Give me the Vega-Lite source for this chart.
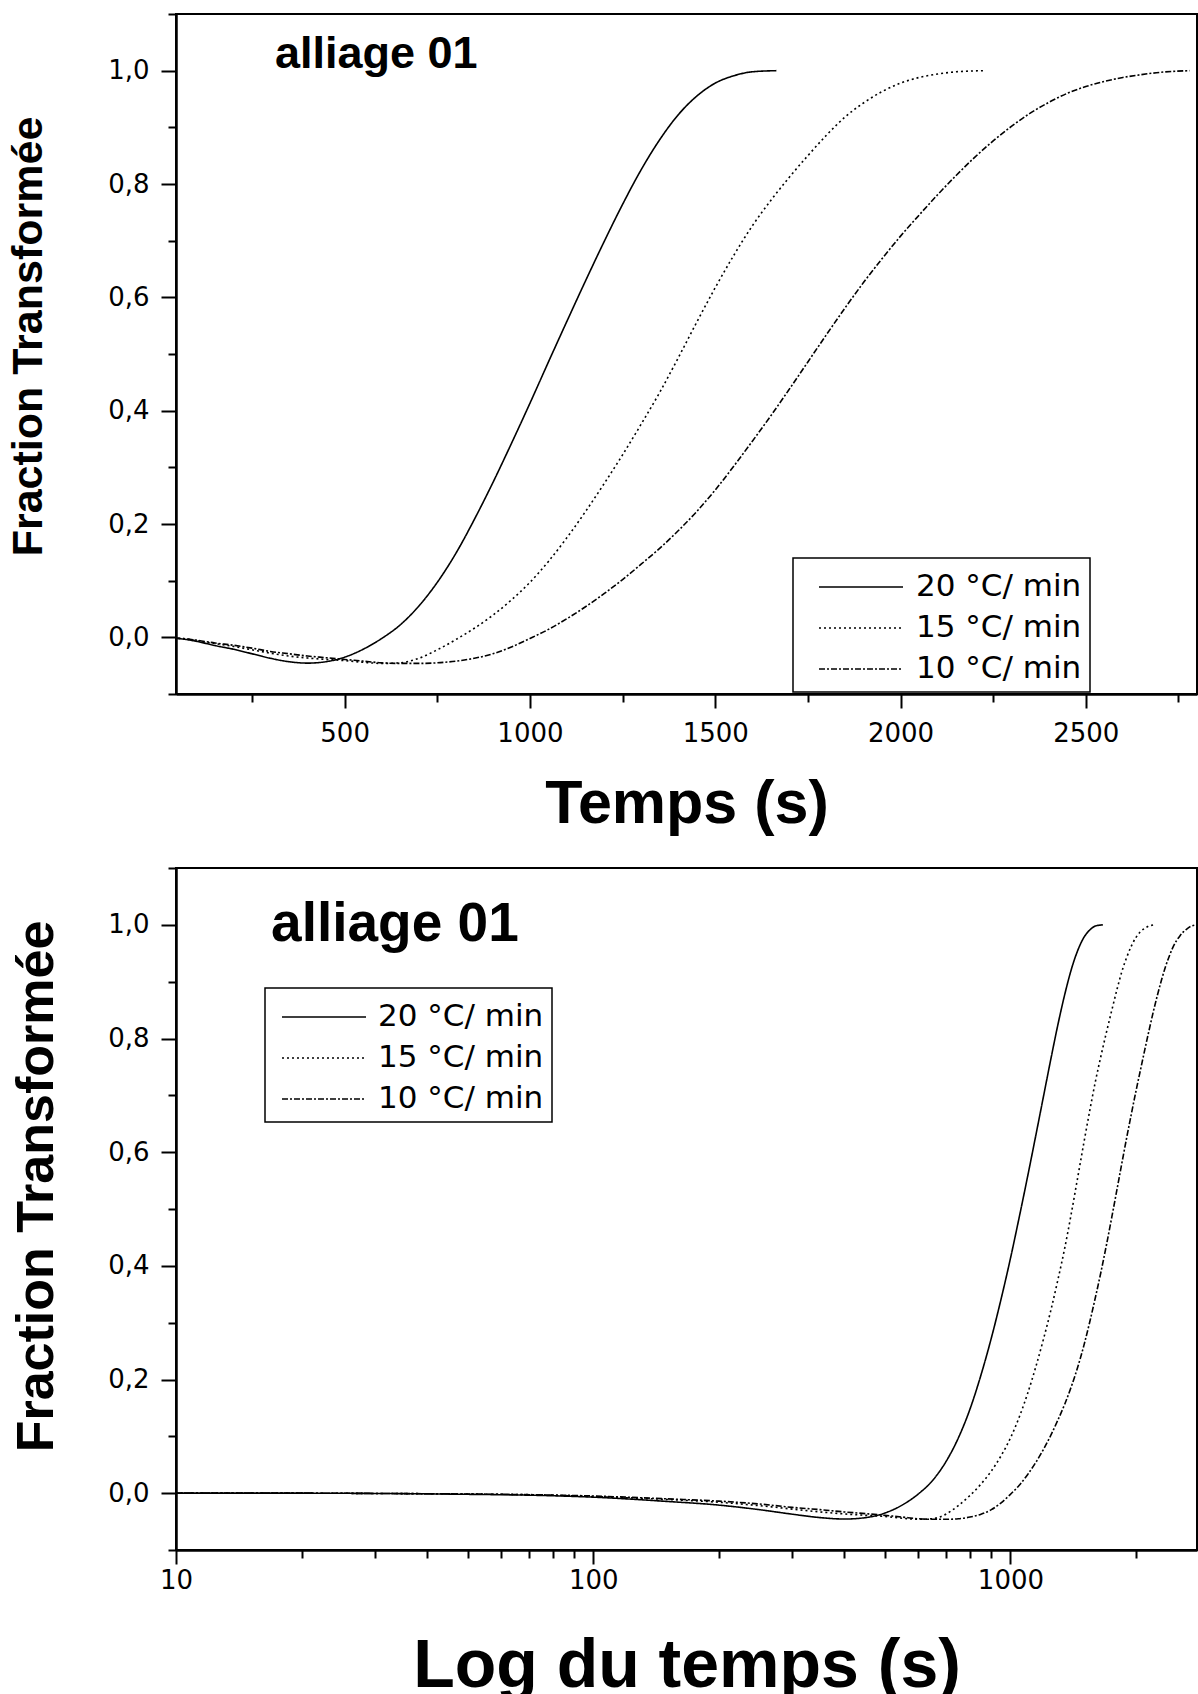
{
  "$schema": "https://vega.github.io/schema/vega-lite/v6.json",
  "background": "white",
  "padding": {"left": 6, "top": 0, "right": 0, "bottom": 0},
  "config": {
    "view": {"stroke": "black", "strokeWidth": 2},
    "legend": {"strokeWidth": 1.5},
    "axis": {
      "grid": false,
      "domainColor": "black",
      "domainWidth": 2.5,
      "tickColor": "black",
      "tickWidth": 2,
      "labelFont": "DejaVu Sans",
      "labelFontSize": 26,
      "labelColor": "black",
      "labelOverlap": false,
      "labelFlush": false,
      "titleFont": "Liberation Sans",
      "titleFontWeight": "bold",
      "titleColor": "black"
    }
  },
  "datasets": {
    "labels": [{"label": "alliage 01"}],
    "curves": [
      {"rate": "20 °C/ min", "t": 10, "f": 0},
      {"rate": "20 °C/ min", "t": 20, "f": 0},
      {"rate": "20 °C/ min", "t": 30, "f": -0.0005},
      {"rate": "20 °C/ min", "t": 50, "f": -0.002},
      {"rate": "20 °C/ min", "t": 75, "f": -0.004},
      {"rate": "20 °C/ min", "t": 100, "f": -0.007},
      {"rate": "20 °C/ min", "t": 150, "f": -0.0145},
      {"rate": "20 °C/ min", "t": 200, "f": -0.021},
      {"rate": "20 °C/ min", "t": 250, "f": -0.029},
      {"rate": "20 °C/ min", "t": 300, "f": -0.037},
      {"rate": "20 °C/ min", "t": 350, "f": -0.043},
      {"rate": "20 °C/ min", "t": 400, "f": -0.0455},
      {"rate": "20 °C/ min", "t": 450, "f": -0.043},
      {"rate": "20 °C/ min", "t": 500, "f": -0.035},
      {"rate": "20 °C/ min", "t": 550, "f": -0.021},
      {"rate": "20 °C/ min", "t": 600, "f": -0.002},
      {"rate": "20 °C/ min", "t": 650, "f": 0.022},
      {"rate": "20 °C/ min", "t": 700, "f": 0.055},
      {"rate": "20 °C/ min", "t": 750, "f": 0.097},
      {"rate": "20 °C/ min", "t": 800, "f": 0.148},
      {"rate": "20 °C/ min", "t": 850, "f": 0.208},
      {"rate": "20 °C/ min", "t": 900, "f": 0.273},
      {"rate": "20 °C/ min", "t": 950, "f": 0.342},
      {"rate": "20 °C/ min", "t": 1000, "f": 0.413},
      {"rate": "20 °C/ min", "t": 1050, "f": 0.486},
      {"rate": "20 °C/ min", "t": 1100, "f": 0.558},
      {"rate": "20 °C/ min", "t": 1150, "f": 0.629},
      {"rate": "20 °C/ min", "t": 1200, "f": 0.698},
      {"rate": "20 °C/ min", "t": 1250, "f": 0.764},
      {"rate": "20 °C/ min", "t": 1300, "f": 0.825},
      {"rate": "20 °C/ min", "t": 1350, "f": 0.878},
      {"rate": "20 °C/ min", "t": 1400, "f": 0.922},
      {"rate": "20 °C/ min", "t": 1450, "f": 0.955},
      {"rate": "20 °C/ min", "t": 1500, "f": 0.978},
      {"rate": "20 °C/ min", "t": 1550, "f": 0.991},
      {"rate": "20 °C/ min", "t": 1600, "f": 0.998},
      {"rate": "20 °C/ min", "t": 1665, "f": 1.0},

      {"rate": "15 °C/ min", "t": 10, "f": 0},
      {"rate": "15 °C/ min", "t": 20, "f": 0},
      {"rate": "15 °C/ min", "t": 30, "f": -0.0005},
      {"rate": "15 °C/ min", "t": 50, "f": -0.0015},
      {"rate": "15 °C/ min", "t": 75, "f": -0.003},
      {"rate": "15 °C/ min", "t": 100, "f": -0.006},
      {"rate": "15 °C/ min", "t": 150, "f": -0.011},
      {"rate": "15 °C/ min", "t": 200, "f": -0.016},
      {"rate": "15 °C/ min", "t": 250, "f": -0.022},
      {"rate": "15 °C/ min", "t": 300, "f": -0.028},
      {"rate": "15 °C/ min", "t": 350, "f": -0.033},
      {"rate": "15 °C/ min", "t": 400, "f": -0.0365},
      {"rate": "15 °C/ min", "t": 450, "f": -0.039},
      {"rate": "15 °C/ min", "t": 500, "f": -0.041},
      {"rate": "15 °C/ min", "t": 550, "f": -0.044},
      {"rate": "15 °C/ min", "t": 600, "f": -0.046},
      {"rate": "15 °C/ min", "t": 650, "f": -0.045},
      {"rate": "15 °C/ min", "t": 700, "f": -0.037},
      {"rate": "15 °C/ min", "t": 750, "f": -0.022},
      {"rate": "15 °C/ min", "t": 800, "f": -0.004},
      {"rate": "15 °C/ min", "t": 850, "f": 0.016},
      {"rate": "15 °C/ min", "t": 900, "f": 0.039},
      {"rate": "15 °C/ min", "t": 950, "f": 0.066},
      {"rate": "15 °C/ min", "t": 1000, "f": 0.097},
      {"rate": "15 °C/ min", "t": 1050, "f": 0.134},
      {"rate": "15 °C/ min", "t": 1100, "f": 0.176},
      {"rate": "15 °C/ min", "t": 1150, "f": 0.222},
      {"rate": "15 °C/ min", "t": 1200, "f": 0.271},
      {"rate": "15 °C/ min", "t": 1250, "f": 0.322},
      {"rate": "15 °C/ min", "t": 1300, "f": 0.376},
      {"rate": "15 °C/ min", "t": 1350, "f": 0.432},
      {"rate": "15 °C/ min", "t": 1400, "f": 0.493},
      {"rate": "15 °C/ min", "t": 1450, "f": 0.556},
      {"rate": "15 °C/ min", "t": 1500, "f": 0.617},
      {"rate": "15 °C/ min", "t": 1550, "f": 0.674},
      {"rate": "15 °C/ min", "t": 1600, "f": 0.726},
      {"rate": "15 °C/ min", "t": 1650, "f": 0.771},
      {"rate": "15 °C/ min", "t": 1700, "f": 0.812},
      {"rate": "15 °C/ min", "t": 1750, "f": 0.85},
      {"rate": "15 °C/ min", "t": 1800, "f": 0.886},
      {"rate": "15 °C/ min", "t": 1850, "f": 0.918},
      {"rate": "15 °C/ min", "t": 1900, "f": 0.943},
      {"rate": "15 °C/ min", "t": 1950, "f": 0.963},
      {"rate": "15 °C/ min", "t": 2000, "f": 0.978},
      {"rate": "15 °C/ min", "t": 2050, "f": 0.988},
      {"rate": "15 °C/ min", "t": 2100, "f": 0.994},
      {"rate": "15 °C/ min", "t": 2150, "f": 0.998},
      {"rate": "15 °C/ min", "t": 2225, "f": 1.0},

      {"rate": "10 °C/ min", "t": 10, "f": 0},
      {"rate": "10 °C/ min", "t": 20, "f": 0},
      {"rate": "10 °C/ min", "t": 30, "f": -0.0005},
      {"rate": "10 °C/ min", "t": 50, "f": -0.0015},
      {"rate": "10 °C/ min", "t": 75, "f": -0.003},
      {"rate": "10 °C/ min", "t": 100, "f": -0.005},
      {"rate": "10 °C/ min", "t": 150, "f": -0.01},
      {"rate": "10 °C/ min", "t": 200, "f": -0.014},
      {"rate": "10 °C/ min", "t": 250, "f": -0.019},
      {"rate": "10 °C/ min", "t": 300, "f": -0.025},
      {"rate": "10 °C/ min", "t": 350, "f": -0.029},
      {"rate": "10 °C/ min", "t": 400, "f": -0.033},
      {"rate": "10 °C/ min", "t": 450, "f": -0.036},
      {"rate": "10 °C/ min", "t": 500, "f": -0.039},
      {"rate": "10 °C/ min", "t": 550, "f": -0.042},
      {"rate": "10 °C/ min", "t": 600, "f": -0.045},
      {"rate": "10 °C/ min", "t": 650, "f": -0.046},
      {"rate": "10 °C/ min", "t": 700, "f": -0.046},
      {"rate": "10 °C/ min", "t": 750, "f": -0.045},
      {"rate": "10 °C/ min", "t": 800, "f": -0.042},
      {"rate": "10 °C/ min", "t": 850, "f": -0.037},
      {"rate": "10 °C/ min", "t": 900, "f": -0.029},
      {"rate": "10 °C/ min", "t": 950, "f": -0.017},
      {"rate": "10 °C/ min", "t": 1000, "f": -0.002},
      {"rate": "10 °C/ min", "t": 1050, "f": 0.014},
      {"rate": "10 °C/ min", "t": 1100, "f": 0.033},
      {"rate": "10 °C/ min", "t": 1150, "f": 0.054},
      {"rate": "10 °C/ min", "t": 1200, "f": 0.077},
      {"rate": "10 °C/ min", "t": 1250, "f": 0.102},
      {"rate": "10 °C/ min", "t": 1300, "f": 0.129},
      {"rate": "10 °C/ min", "t": 1350, "f": 0.157},
      {"rate": "10 °C/ min", "t": 1400, "f": 0.188},
      {"rate": "10 °C/ min", "t": 1450, "f": 0.222},
      {"rate": "10 °C/ min", "t": 1500, "f": 0.26},
      {"rate": "10 °C/ min", "t": 1550, "f": 0.302},
      {"rate": "10 °C/ min", "t": 1600, "f": 0.346},
      {"rate": "10 °C/ min", "t": 1650, "f": 0.391},
      {"rate": "10 °C/ min", "t": 1700, "f": 0.438},
      {"rate": "10 °C/ min", "t": 1750, "f": 0.486},
      {"rate": "10 °C/ min", "t": 1800, "f": 0.534},
      {"rate": "10 °C/ min", "t": 1850, "f": 0.581},
      {"rate": "10 °C/ min", "t": 1900, "f": 0.626},
      {"rate": "10 °C/ min", "t": 1950, "f": 0.668},
      {"rate": "10 °C/ min", "t": 2000, "f": 0.708},
      {"rate": "10 °C/ min", "t": 2050, "f": 0.745},
      {"rate": "10 °C/ min", "t": 2100, "f": 0.781},
      {"rate": "10 °C/ min", "t": 2150, "f": 0.815},
      {"rate": "10 °C/ min", "t": 2200, "f": 0.847},
      {"rate": "10 °C/ min", "t": 2250, "f": 0.876},
      {"rate": "10 °C/ min", "t": 2300, "f": 0.902},
      {"rate": "10 °C/ min", "t": 2350, "f": 0.925},
      {"rate": "10 °C/ min", "t": 2400, "f": 0.944},
      {"rate": "10 °C/ min", "t": 2450, "f": 0.96},
      {"rate": "10 °C/ min", "t": 2500, "f": 0.972},
      {"rate": "10 °C/ min", "t": 2550, "f": 0.981},
      {"rate": "10 °C/ min", "t": 2600, "f": 0.988},
      {"rate": "10 °C/ min", "t": 2650, "f": 0.993},
      {"rate": "10 °C/ min", "t": 2700, "f": 0.997},
      {"rate": "10 °C/ min", "t": 2780, "f": 1.0}
    ]
  },
  "spacing": 19,
  "resolve": {"scale": {"strokeDash": "independent"}, "legend": {"strokeDash": "independent"}},
  "vconcat": [
    {
      "width": 1021,
      "height": 680,
      "layer": [
        {
          "data": {"name": "curves"},
          "mark": {"type": "line", "clip": true, "color": "black", "strokeWidth": 1.6, "interpolate": "monotone"},
          "encoding": {
            "x": {
              "field": "t", "type": "quantitative",
              "scale": {"domain": [45, 2800], "nice": false, "zero": false},
              "axis": {
                "title": "Temps (s)",
                "titleFontSize": 61,
                "titlePadding": 28,
                "values": [250, 500, 750, 1000, 1250, 1500, 1750, 2000, 2250, 2500, 2750],
                "labelExpr": "datum.value % 500 == 0 ? format(datum.value, 'd') : ''",
                "tickSize": {"condition": {"test": "datum.value % 500 == 0", "value": 14}, "value": 8},
                "labelPadding": 12
              }
            },
            "y": {
              "field": "f", "type": "quantitative",
              "scale": {"domain": [-0.1, 1.1], "nice": false, "zero": false},
              "axis": {
                "title": "Fraction Transformée",
                "titleFontSize": 43,
                "titlePadding": 57,
                "titleY": 322,
                "values": [-0.1, 0, 0.1, 0.2, 0.3, 0.4, 0.5, 0.6, 0.7, 0.8, 0.9, 1.0, 1.1],
                "labelExpr": "round(datum.value * 10) % 2 == 0 ? replace(format(datum.value, '.1f'), '.', ',') : ''",
                "tickSize": {"condition": {"test": "round(datum.value * 10) % 2 == 0", "value": 15}, "value": 8},
                "labelPadding": 12
              }
            },
            "strokeDash": {
              "field": "rate", "type": "nominal",
              "scale": {"domain": ["20 °C/ min", "15 °C/ min", "10 °C/ min"], "range": [[1, 0], [2, 3], [6, 2, 2, 2]]},
              "legend": {
                "title": null, "orient": "none", "legendX": 617, "legendY": 544,
                "strokeColor": "black", "padding": 8,
                "symbolType": "M-2.1,0L2.1,0", "symbolSize": 1600, "symbolOffset": 39,
                "symbolStrokeWidth": 1.5, "symbolStrokeColor": "black",
                "labelFont": "DejaVu Sans", "labelFontSize": 31, "labelColor": "black",
                "labelOffset": 34, "rowPadding": 5, "labelLimit": 400
              }
            }
          }
        },
        {
          "data": {"name": "labels"},
          "mark": {"type": "text", "align": "left", "baseline": "alphabetic", "font": "Liberation Sans", "fontSize": 45, "fontWeight": "bold", "color": "black"},
          "encoding": {
            "x": {"datum": 312, "type": "quantitative", "scale": {"domain": [45, 2800], "nice": false, "zero": false}},
            "y": {"datum": 1.005, "type": "quantitative", "scale": {"domain": [-0.1, 1.1], "nice": false, "zero": false}},
            "text": {"field": "label"}
          }
        }
      ]
    },
    {
      "width": 1021,
      "height": 682,
      "layer": [
        {
          "data": {"name": "curves"},
          "transform": [{"filter": "datum.t >= 10"}],
          "mark": {"type": "line", "clip": true, "color": "black", "strokeWidth": 1.6, "interpolate": "monotone"},
          "encoding": {
            "x": {
              "field": "t", "type": "quantitative",
              "scale": {"type": "log", "domain": [10, 2800], "nice": false},
              "axis": {
                "title": "Log du temps (s)",
                "titleFontSize": 68,
                "titlePadding": 39,
                "values": [10, 20, 30, 40, 50, 60, 70, 80, 90, 100, 200, 300, 400, 500, 600, 700, 800, 900, 1000, 2000],
                "labelExpr": "(datum.value == 10 || datum.value == 100 || datum.value == 1000) ? format(datum.value, 'd') : ''",
                "tickSize": {"condition": {"test": "datum.value == 10 || datum.value == 100 || datum.value == 1000", "value": 14}, "value": 8},
                "labelPadding": 3
              }
            },
            "y": {
              "field": "f", "type": "quantitative",
              "scale": {"domain": [-0.1, 1.1], "nice": false, "zero": false},
              "axis": {
                "title": "Fraction Transformée",
                "titleFontSize": 52,
                "titlePadding": 44,
                "titleY": 318,
                "values": [-0.1, 0, 0.1, 0.2, 0.3, 0.4, 0.5, 0.6, 0.7, 0.8, 0.9, 1.0, 1.1],
                "labelExpr": "round(datum.value * 10) % 2 == 0 ? replace(format(datum.value, '.1f'), '.', ',') : ''",
                "tickSize": {"condition": {"test": "round(datum.value * 10) % 2 == 0", "value": 15}, "value": 8},
                "labelPadding": 12
              }
            },
            "strokeDash": {
              "field": "rate", "type": "nominal",
              "scale": {"domain": ["20 °C/ min", "15 °C/ min", "10 °C/ min"], "range": [[1, 0], [2, 3], [6, 2, 2, 2]]},
              "legend": {
                "title": null, "orient": "none", "legendX": 89, "legendY": 120,
                "strokeColor": "black", "padding": 8,
                "symbolType": "M-2.1,0L2.1,0", "symbolSize": 1600, "symbolOffset": 30,
                "symbolStrokeWidth": 1.5, "symbolStrokeColor": "black",
                "labelFont": "DejaVu Sans", "labelFontSize": 31, "labelColor": "black",
                "labelOffset": 33, "rowPadding": 5, "labelLimit": 400
              }
            }
          }
        },
        {
          "data": {"name": "labels"},
          "mark": {"type": "text", "align": "left", "baseline": "alphabetic", "font": "Liberation Sans", "fontSize": 55, "fontWeight": "bold", "color": "black"},
          "encoding": {
            "x": {"datum": 16.9, "type": "quantitative", "scale": {"type": "log", "domain": [10, 2800], "nice": false}},
            "y": {"datum": 0.972, "type": "quantitative", "scale": {"domain": [-0.1, 1.1], "nice": false, "zero": false}},
            "text": {"field": "label"}
          }
        }
      ]
    }
  ]
}
